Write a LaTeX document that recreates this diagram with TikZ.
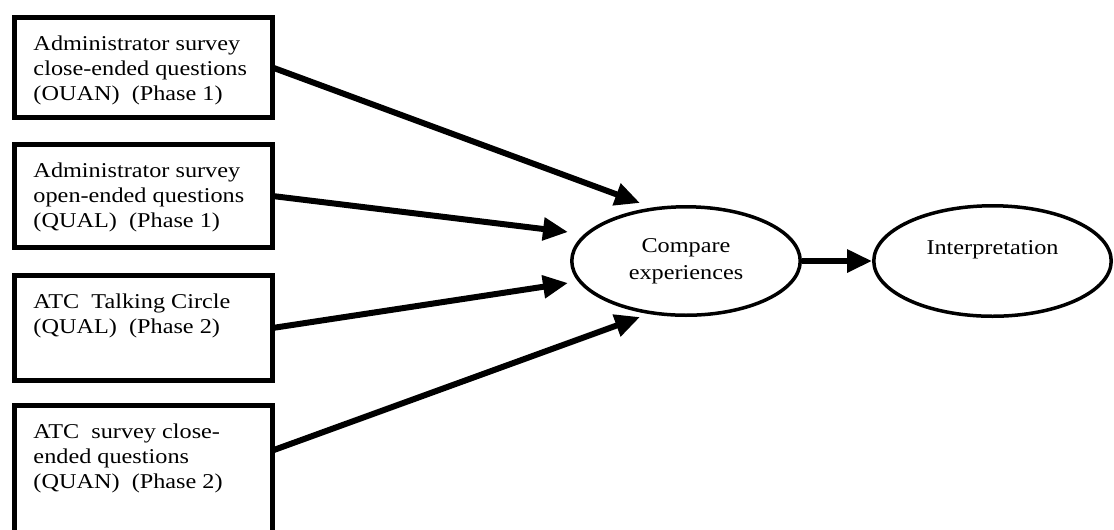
\documentclass[tikz,border=0pt]{standalone}
\usepackage{fontspec}
\setmainfont{Liberation Serif}[FakeStretch=1.15]
\usepackage{tikz}
\usetikzlibrary{arrows.meta,shapes,positioning,calc}
\tikzstyle{srcbox} = [draw, line width=0.1cm, outer sep=0pt, anchor=north west, inner xsep=0.38cm, inner ysep=0.36cm, font=\fontsize{12}{14.2}\selectfont]
\tikzstyle{oval} = [draw, ellipse, line width=0.07cm, inner sep=0pt, align=center, font=\fontsize{12}{15.3}\selectfont]
\tikzstyle{arrow} = [line width=0.12cm, -{Triangle[length=0.5cm,width=0.44cm]}]
\newcommand{\boxtext}[2]{\parbox[c][#1][t]{4.4cm}{\raggedright #2}}

\begin{document}
\begin{tikzpicture}[x=0.02cm, y=-0.02cm]
\useasboundingbox (0,0) rectangle (1114,529);
\clip (0,0) rectangle (1114,529);

% Data sources
\node[srcbox] (b1) at (14.5,17.5) {\boxtext{1.28cm}{Administrator survey\\close-ended questions\\(OUAN)\ \ (Phase 1)}};
\node[srcbox] (b2) at (14.5,144.5) {\boxtext{1.34cm}{Administrator survey\\open-ended questions\\(QUAL)\ \ (Phase 1)}};
\node[srcbox] (b3) at (14.5,275.5) {\boxtext{1.38cm}{ATC\ \ Talking Circle\\(QUAL)\ \ (Phase 2)}};
\node[srcbox] (b4) at (14.5,405.5) {\boxtext{2.38cm}{ATC\ \ survey close-\\ended questions\\(QUAN)\ \ (Phase 2)}};

% Analysis
\node[oval, minimum width=4.57cm, minimum height=2.17cm] (cmp) at (686,261) {Compare\\experiences};
\node[oval, minimum width=4.75cm, minimum height=2.21cm, text height=0.3cm, text depth=0.58cm] (int) at (992.5,261) {Interpretation};

% Arrow ends
\coordinate (e1) at (640,203);
\coordinate (e2) at (568,232);
\coordinate (e3) at (568,283);
\coordinate (e4) at (640,317);
\coordinate (s4) at ($(b4.north east)+(0,45)$);

% Arrows
\draw[arrow] (b1.east) -- (e1);
\draw[arrow] (b2.east) -- (e2);
\draw[arrow] (b3.east) -- (e3);
\draw[arrow] (s4) -- (e4);
\draw[arrow] (cmp.east) -- (int.west);
\end{tikzpicture}
\end{document}
